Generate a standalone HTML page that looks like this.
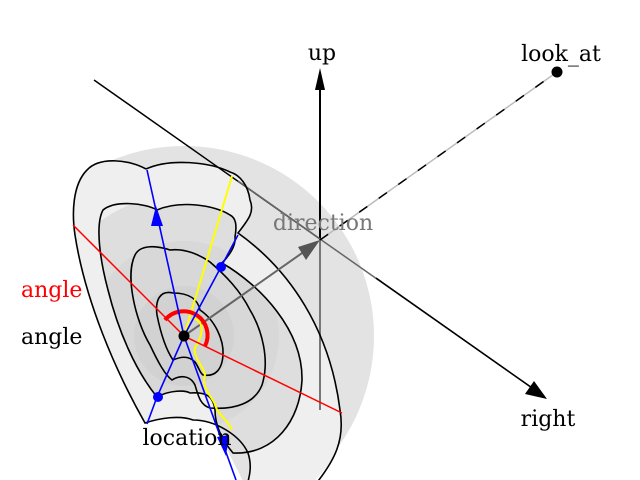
<!DOCTYPE html>
<html><head><meta charset="utf-8"><style>html,body{margin:0;padding:0;background:#fff;overflow:hidden;width:640px;height:480px}svg{display:block}text{font-family:"DejaVu Serif","Liberation Serif",serif;font-size:22px}</style></head>
<body>
<svg width="640" height="480" viewBox="0 0 640 480" xmlns="http://www.w3.org/2000/svg">
<defs>
<clipPath id="c"><rect x="0" y="0" width="640" height="480"/></clipPath>
<clipPath id="h"><polygon points="60,120 120,20 640,20 640,480 245,485"/></clipPath>
<clipPath id="k2"><path d="M157,210 C145,203 115,200 103,210 C95,225 100,260 108,290 C118,330 135,370 157,397 C170,390 185,390 190,393 C205,392 213,395 215,410 C215,425 222,440 233,453 C275,455 300,420 302,380 C303,330 260,285 222,263 C230,255 236,245 235,237 C237,225 236,218 230,215 C215,205 180,200 157,210 Z"/></clipPath>
</defs>
<g clip-path="url(#c)">
<circle cx="184" cy="336" r="190" fill="#e3e3e3" clip-path="url(#h)"/>
<path d="M146,169 C130,160 100,156 87,170 C72,185 72,215 75,235 C85,300 115,370 145,423 C160,418 180,415 193,420 C215,420 240,435 248,453 C252,465 250,475 247,480 L315,480 C335,460 345,440 340,410 C330,330 290,270 238,233 C248,220 255,212 250,200 C248,185 240,175 230,172 C210,162 170,158 146,169 Z" fill="#efefef"/>
<g clip-path="url(#k2)">
<circle cx="184" cy="336" r="142" fill="#dedede"/>
<circle cx="184" cy="336" r="95" fill="#d8d8d8"/>
<circle cx="184" cy="336" r="50" fill="#d2d2d2"/>
</g>
<line x1="320" y1="410" x2="320" y2="240" stroke="#777" stroke-width="2"/>
<line x1="320" y1="240" x2="320" y2="82" stroke="#000" stroke-width="2"/>
<polygon points="320,68 315,90 325,90" fill="#000"/>
<line x1="94" y1="80" x2="320" y2="239" stroke="#000" stroke-width="1.5"/>
<line x1="238" y1="181" x2="320" y2="239" stroke="#666" stroke-width="1.5"/>
<line x1="320" y1="239" x2="535" y2="390" stroke="#666" stroke-width="1.5"/>
<line x1="376" y1="278" x2="535" y2="390" stroke="#000" stroke-width="1.5"/>
<polygon points="547,399 525,394 534,381" fill="#000"/>
<line x1="320" y1="240" x2="557" y2="72" stroke="#bbb" stroke-width="1.5"/>
<line x1="320" y1="240" x2="557" y2="72" stroke="#000" stroke-width="1.5" stroke-dasharray="10,14"/>
<circle cx="557" cy="72" r="5.5" fill="#000"/>
<g fill="none" stroke="#000" stroke-width="1.6">
<path d="M146,169 C130,160 100,156 87,170 C72,185 72,215 75,235 C85,300 115,370 145,423 C160,418 180,415 193,420 C215,420 240,435 248,453 C252,465 250,475 247,485 M315,485 C335,460 345,440 340,410 C330,330 290,270 238,233 C248,220 255,212 250,200 C248,185 240,175 230,172 C210,162 170,158 146,169"/>
<path d="M157,210 C145,203 115,200 103,210 C95,225 100,260 108,290 C118,330 135,370 157,397 C170,390 185,390 190,393 C205,392 213,395 215,410 C215,425 222,440 233,453 C275,455 300,420 302,380 C303,330 260,285 222,263 C230,255 236,245 235,237 C237,225 236,218 230,215 C215,205 180,200 157,210"/>
<path d="M170,250 C155,245 140,245 135,255 C125,275 135,320 150,345 C158,362 165,375 172,380 C180,375 190,375 195,385 C198,395 200,405 210,408 C235,410 255,403 262,385 C270,360 262,330 250,310 C240,290 225,275 210,262 C200,255 185,248 170,250 Z"/>
<path d="M173,293 C160,290 155,300 157,315 C160,330 165,348 173,360 C180,357 188,355 195,362 C199,368 200,373 203,375 C215,377 222,370 223,355 C224,340 215,320 200,310 C198,300 190,293 173,293 Z"/>
</g>
<line x1="184" y1="336" x2="305" y2="251" stroke="#666" stroke-width="2"/>
<polygon points="320,240 298,247 306,260" fill="#555"/>
<path d="M184,336 L232,176" stroke="#ff0" stroke-width="2" fill="none"/>
<path d="M193,318 C205,322 203,334 196,346 C190,354 205,368 205,375 C200,388 215,400 215,405 C218,415 228,420 232,430" stroke="#ff0" stroke-width="2" fill="none"/>
<path d="M73,225 L184,336 L342,413" stroke="#f00" stroke-width="1.5" fill="none"/>
<path d="M165,320 A24,24 0 0 1 205,346" stroke="#f00" stroke-width="4" fill="none"/>
<path d="M147,170 L184,336 L236,480" stroke="#00f" stroke-width="1.6" fill="none"/>
<path d="M238,235 L221,267 L184,336 L157,397 L147,424" stroke="#00f" stroke-width="1.6" fill="none"/>
<polygon points="156,206 151,226 163,226" fill="#00f"/>
<polygon points="226,456 217,437 229,435" fill="#00f"/>
<circle cx="221" cy="267" r="5" fill="#00f"/>
<circle cx="158" cy="397" r="5" fill="#00f"/>
<circle cx="184" cy="336" r="5.5" fill="#000"/>
<text x="322" y="60" text-anchor="middle">up</text>
<text x="561" y="61" text-anchor="middle">look_at</text>
<text x="323" y="230" text-anchor="middle" fill="#777">direction</text>
<text x="21" y="297" fill="#f00">angle</text>
<text x="21" y="344">angle</text>
<text x="187" y="445" text-anchor="middle">location</text>
<text x="548" y="426" text-anchor="middle">right</text>
</g>
</svg>
</body></html>
